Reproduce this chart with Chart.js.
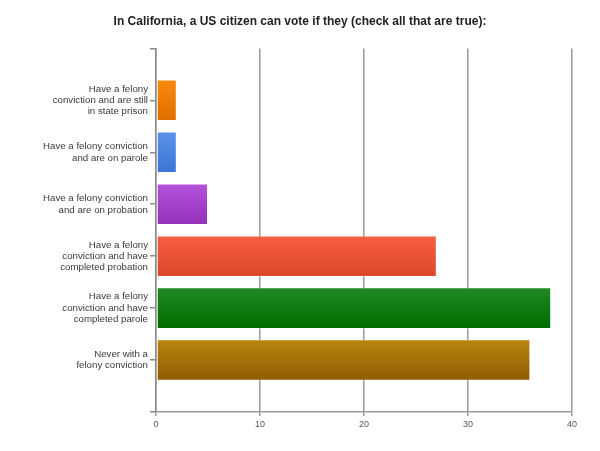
<!DOCTYPE html>
<html>
<head>
<meta charset="utf-8">
<script src="https://cdn.jsdelivr.net/npm/chart.js@4/dist/chart.umd.min.js"></script>
<style>
  html, body { margin: 0; padding: 0; background: #ffffff; }
  #wrap { width: 600px; height: 451px; }
</style>
</head>
<body>
<div id="wrap"><canvas id="c" width="600" height="451"></canvas></div>
<script>
const titleText = 'In California, a US citizen can vote if they (check all that are true):';
const categories = [
  ['Have a felony', 'conviction and are still', 'in state prison'],
  ['Have a felony conviction', 'and are on parole'],
  ['Have a felony conviction', 'and are on probation'],
  ['Have a felony', 'conviction and have', 'completed probation'],
  ['Have a felony', 'conviction and have', 'completed parole'],
  ['Never with a', 'felony conviction']
];
const values = [2, 2, 5, 27, 38, 36];
const xTicks = [0, 10, 20, 30, 40];

const topColors = ['#f88a10', '#5b93ec', '#b552dc', '#f65f42', '#218a24', '#b8860f'];
const bottomColors = ['#e06e00', '#3c74d6', '#9232b8', '#dc4628', '#006a00', '#8e5c00'];

// padded labels: empty slot at both ends
const labels = [''].concat(categories, ['']);
const data = [null].concat(values, [null]);

function grad(ctx, i) {
  const chart = ctx.chart;
  const y = chart.scales && chart.scales.y;
  const idx = i - 1;
  if (idx < 0 || idx >= values.length) return '#000';
  if (!y || !chart.chartArea) return topColors[idx];
  const c = y.getPixelForValue(i);
  const h = 21;
  const g = chart.ctx.createLinearGradient(0, c - h, 0, c + h);
  g.addColorStop(0, topColors[idx]);
  g.addColorStop(1, bottomColors[idx]);
  return g;
}

new Chart(document.getElementById('c'), {
  type: 'bar',
  data: {
    labels: labels,
    datasets: [{
      data: data,
      backgroundColor: (ctx) => grad(ctx, ctx.dataIndex),
      borderColor: 'rgba(255,255,255,0.35)',
      borderWidth: 1,
      borderSkipped: false,
      barPercentage: 0.8,
      categoryPercentage: 1.0
    }]
  },
  options: {
    indexAxis: 'y',
    responsive: false,
    animation: false,
    devicePixelRatio: 1,
    layout: { padding: { left: 28, right: 28, top: 0, bottom: 0 } },
    plugins: {
      legend: { display: false },
      tooltip: { enabled: false },
      title: {
        display: true,
        text: titleText,
        color: '#222',
        font: { family: 'Arial, "Liberation Sans", sans-serif', size: 12, weight: 'bold' },
        padding: { top: 14, bottom: 20 }
      }
    },
    scales: {
      x: {
        type: 'linear',
        min: 0,
        max: 40,
        afterBuildTicks: (s) => { s.ticks = xTicks.map(v => ({ value: v })); },
        afterFit: (s) => { s.height = 39; },
        grid: {
          color: '#9a9a9a',
          lineWidth: 1.5,
          drawTicks: true,
          tickLength: 4,
          tickColor: '#9a9a9a'
        },
        border: { display: true, color: '#9a9a9a', width: 1.5 },
        ticks: {
          color: '#555',
          padding: 3,
          font: { family: 'Arial, "Liberation Sans", sans-serif', size: 9 }
        }
      },
      y: {
        type: 'category',
        offset: false,
        afterFit: (s) => { s.width = 128; },
        grid: {
          offset: false,
          drawOnChartArea: false,
          drawTicks: true,
          tickLength: 6,
          tickColor: '#8a8a8a',
          lineWidth: 1.5
        },
        border: { display: true, color: '#8a8a8a', width: 1.5 },
        ticks: {
          color: '#3a3a3a',
          padding: 2,
          autoSkip: false,
          font: { family: 'Arial, "Liberation Sans", sans-serif', size: 9.7, lineHeight: 1.17 }
        }
      }
    }
  }
});
</script>
</body>
</html>
